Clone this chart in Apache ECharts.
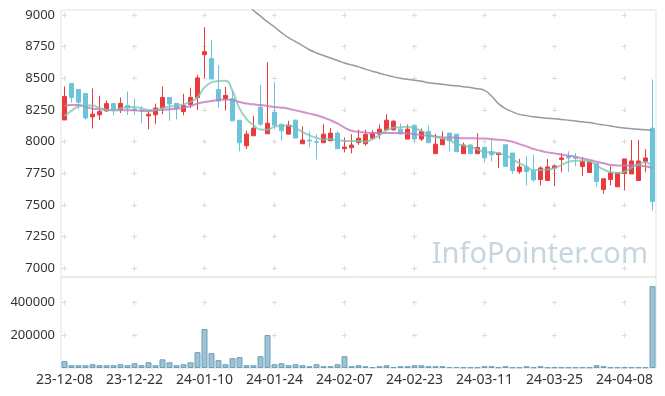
<!DOCTYPE html>
<html><head><meta charset="utf-8">
<script src="https://cdn.jsdelivr.net/npm/echarts@6/dist/echarts.min.js"></script>
<style>html,body{margin:0;padding:0;background:#fff}#c{width:665px;height:396px}</style>
</head><body><div id="c"></div>
<script>
const dates = ['23-12-08','23-12-11','23-12-12','23-12-13','23-12-14','23-12-15','23-12-18','23-12-19','23-12-20','23-12-21',
'23-12-22','23-12-26','23-12-27','23-12-28','24-01-02','24-01-03','24-01-04','24-01-05','24-01-08','24-01-09',
'24-01-10','24-01-11','24-01-12','24-01-15','24-01-16','24-01-17','24-01-18','24-01-19','24-01-22','24-01-23',
'24-01-24','24-01-25','24-01-26','24-01-29','24-01-30','24-01-31','24-02-01','24-02-02','24-02-05','24-02-06',
'24-02-07','24-02-08','24-02-13','24-02-14','24-02-15','24-02-16','24-02-19','24-02-20','24-02-21','24-02-22',
'24-02-23','24-02-26','24-02-27','24-02-28','24-02-29','24-03-04','24-03-05','24-03-06','24-03-07','24-03-08',
'24-03-11','24-03-12','24-03-13','24-03-14','24-03-15','24-03-18','24-03-19','24-03-20','24-03-21','24-03-22',
'24-03-25','24-03-26','24-03-27','24-03-28','24-03-29','24-04-01','24-04-02','24-04-03','24-04-04','24-04-05',
'24-04-08','24-04-09','24-04-11','24-04-12','24-04-15'];

const openVals = [8171,8459,8412,8380,8195,8211,8242,8300,8252,8286,
8257,8250,8203,8211,8265,8349,8302,8237,8294,8347,
8686,8655,8412,8336,8339,8169,7967,8046,8271,8062,
8231,8137,8059,8169,7983,8012,8000,7991,8007,8067,
7944,7952,7993,7983,8027,8059,8093,8093,8098,8020,
8129,8020,8082,7905,7975,8067,8059,7905,7973,7905,
7954,7920,7897,7975,7910,7763,7800,7769,7701,7693,
7792,7858,7881,7874,7803,7756,7829,7622,7701,7643,
7748,7745,7693,7842,8106];
const closeVals = [8357,8349,8310,8187,8216,8237,8300,8250,8302,8265,
8248,8245,8216,8265,8349,8297,8265,8286,8349,8503,
8710,8495,8320,8365,8164,7991,8059,8106,8137,8145,
8130,8085,8130,8028,8012,8005,7995,8059,8067,7944,
7957,7973,8027,8056,8067,8098,8169,8161,8061,8098,
8020,8080,7991,7980,8020,8007,7920,7973,7905,7954,
7871,7897,7910,7805,7771,7800,7763,7698,7792,7800,
7808,7871,7871,7868,7842,7839,7685,7706,7753,7753,
7863,7847,7847,7871,7528];
const lowVals = [8171,8307,8255,8174,8103,8171,8234,8208,8226,8208,
8211,8145,8098,8137,8216,8164,8174,8208,8265,8250,
8503,8490,8268,8245,8164,7923,7941,8046,8124,8062,
8098,8007,8059,8028,7983,7954,7858,7991,8007,7944,
7915,7907,7975,7967,8012,8020,8085,8085,8061,8020,
7999,8004,7991,7905,7975,7923,7920,7905,7900,7905,
7837,7845,7790,7805,7745,7745,7654,7685,7654,7693,
7648,7758,7758,7805,7727,7756,7646,7588,7654,7643,
7614,7745,7693,7758,7458];
const highVals = [8435,8459,8412,8380,8420,8362,8323,8307,8347,8396,
8339,8281,8242,8300,8435,8349,8302,8378,8425,8527,
8903,8804,8603,8433,8404,8169,8085,8203,8448,8626,
8469,8137,8164,8174,8119,8080,8059,8137,8106,8080,
8033,8059,8095,8095,8090,8135,8216,8169,8143,8135,
8135,8103,8127,8061,8080,8067,8059,7993,7980,8067,
7962,8020,7910,7975,7910,7863,7884,7897,7805,7863,
7821,7910,7923,7910,7876,7839,7829,7706,7805,7753,
7863,8012,8012,7941,8490];

const ma5 = [8203,8242,8278,8286,8286,8264,8252,8247,8262,8272,
8273,8263,8250,8252,8266,8277,8282,8295,8313,8350,
8428,8468,8478,8480,8400,8262,8178,8130,8095,8094,
8118,8125,8127,8108,8075,8050,8030,8017,8020,8011,
8006,8004,8005,8000,8020,8050,8090,8110,8113,8118,
8103,8085,8055,8038,8025,8012,7980,7970,7955,7940,
7918,7915,7908,7895,7860,7830,7800,7775,7775,7780,
7790,7815,7840,7848,7850,7845,7812,7780,7760,7752,
7762,7795,7820,7836,7795];
const ma20 = [8281,8289,8289,8273,8260,8255,8250,8247,8247,8247,
8247,8242,8242,8247,8250,8255,8260,8268,8281,8300,
8313,8320,8328,8333,8326,8313,8300,8294,8289,8281,
8273,8268,8260,8247,8234,8221,8208,8190,8169,8143,
8111,8085,8078,8072,8067,8067,8067,8067,8067,8064,
8059,8051,8046,8041,8033,8033,8030,8027,8027,8025,
8025,8020,8014,8010,7999,7980,7962,7941,7928,7915,
7907,7897,7889,7881,7868,7855,7842,7829,7816,7811,
7811,7811,7811,7805,7792];
const ma60 = [null,null,null,null,null,null,null,null,null,null,
null,null,null,null,null,null,null,null,null,null,
null,null,null,null,9170,9125,9080,9035,8990,8945,
8905,8860,8820,8790,8758,8725,8700,8680,8660,8640,
8620,8605,8590,8572,8556,8540,8525,8511,8500,8492,
8485,8476,8465,8458,8452,8445,8440,8433,8427,8418,
8405,8360,8300,8260,8235,8215,8205,8197,8190,8185,
8180,8175,8169,8163,8156,8150,8140,8132,8123,8113,
8108,8102,8097,8093,8088];
const volumes = [42000,17000,17000,17000,23000,17000,17000,17000,23000,17000,
29000,17000,35000,17000,53000,35000,17000,23000,35000,97000,
239000,91000,48000,23000,60000,66000,17000,17000,72000,202000,
23000,29000,17000,23000,17000,11000,23000,11000,11000,23000,
72000,11000,17000,11000,5000,11000,17000,5000,11000,11000,
17000,17000,11000,11000,11000,5000,5000,4000,4000,4000,
11000,11000,4000,11000,4000,4000,11000,4000,11000,4000,
4000,4000,4000,4000,4000,4000,17000,11000,4000,4000,
4000,4000,4000,4000,501000];

const priceTicks = [7000,7250,7500,7750,8000,8250,8500,8750,9000];
const volumeTicks = [200000,400000];
const crossCols = [0,10,20,30,40,50,60,70,80];

const candleData = dates.map((d, i) => [openVals[i], closeVals[i], lowVals[i], highVals[i]]);

const FONT = 'Noto Sans';
const gridLineColor = '#dcdcdc';
const hDash = {color: gridLineColor, width: 1, type: [5, 65], dashOffset: 69};
const plain = v => String(v);

const chart = echarts.init(document.getElementById('c'), null, {renderer: 'canvas'});
chart.setOption({
  animation: false,
  backgroundColor: '#ffffff',
  grid: [
    {left: 61, width: 595, top: 10, height: 267, show: true, borderColor: '#e3e3e3', borderWidth: 1},
    {left: 61, width: 595, top: 277, height: 91, show: true, borderColor: '#e3e3e3', borderWidth: 1}
  ],
  xAxis: [
    {type: 'category', gridIndex: 0, data: dates, boundaryGap: true,
     axisLabel: {show: false}, axisTick: {show: false}, axisLine: {show: false}, splitLine: {show: false}},
    {type: 'category', gridIndex: 1, data: dates, boundaryGap: true,
     axisLabel: {interval: 9, fontSize: 14, color: '#333', fontFamily: FONT, margin: 5},
     axisTick: {show: false}, axisLine: {show: false}, splitLine: {show: false}},
    {type: 'value', gridIndex: 0, min: -0.5, max: 84.5,
     axisLabel: {show: false}, axisLine: {show: false},
     axisTick: {show: false, customValues: crossCols},
     splitLine: {show: true, lineStyle: {color: gridLineColor, width: 1, type: [5, 26.665], dashOffset: 29.225}}},
    {type: 'value', gridIndex: 1, min: -0.5, max: 84.5,
     axisLabel: {show: false}, axisLine: {show: false},
     axisTick: {show: false, customValues: crossCols},
     splitLine: {show: true, lineStyle: {color: gridLineColor, width: 1, type: [5, 27.675], dashOffset: 9.525}}}
  ],
  yAxis: [
    {type: 'value', gridIndex: 0, min: 6931, max: 9039,
     axisLabel: {customValues: priceTicks, formatter: plain, fontSize: 13, color: '#333', fontFamily: FONT, margin: 6},
     axisTick: {show: false, customValues: priceTicks}, axisLine: {show: false},
     splitLine: {show: true, lineStyle: hDash}},
    {type: 'value', gridIndex: 1, min: 0, max: 557000,
     axisLabel: {customValues: volumeTicks, formatter: plain, fontSize: 13, color: '#333', fontFamily: FONT, margin: 6},
     axisTick: {show: false, customValues: volumeTicks}, axisLine: {show: false},
     splitLine: {show: true, lineStyle: hDash}}
  ],
  graphic: [
    {type: 'text', right: 17, top: 240, z: 0, silent: true,
     style: {text: 'InfoPointer.com', font: '29px "Noto Sans"', fill: '#c6d6df'}}
  ],
  series: [
    {type: 'candlestick', xAxisIndex: 0, yAxisIndex: 0, data: candleData, barWidth: 5,
     itemStyle: {color: '#ea3a3e', color0: '#6cc4db', borderColor: '#ea3a3e', borderColor0: '#6cc4db', borderWidth: 1}},
    {type: 'line', name: 'MA60', xAxisIndex: 0, yAxisIndex: 0, data: ma60, smooth: true, showSymbol: false,
     lineStyle: {color: '#999999', width: 1.5}},
    {type: 'line', name: 'MA20', xAxisIndex: 0, yAxisIndex: 0, data: ma20, smooth: true, showSymbol: false,
     lineStyle: {color: 'rgba(196,120,190,0.8)', width: 2}},
    {type: 'line', name: 'MA5', xAxisIndex: 0, yAxisIndex: 0, data: ma5, smooth: true, showSymbol: false,
     lineStyle: {color: 'rgba(120,196,176,0.75)', width: 2}},
    {type: 'bar', xAxisIndex: 1, yAxisIndex: 1, data: volumes, barWidth: 6,
     itemStyle: {color: '#9dc2d4', borderColor: '#6d9fba', borderWidth: 1}}
  ]
});
</script>
</body></html>
